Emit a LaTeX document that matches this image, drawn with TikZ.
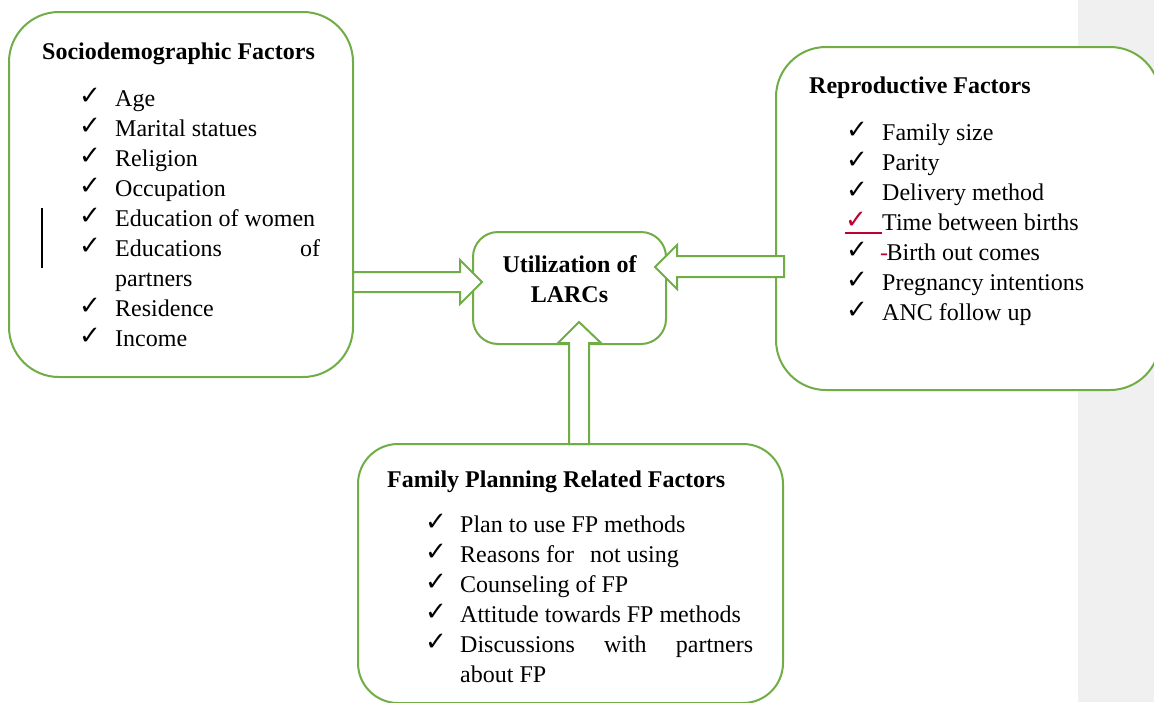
\documentclass[tikz,border=0pt]{standalone}
\usepackage{fontspec}
\setmainfont{Liberation Serif}
\newfontfamily\symf{DejaVu Sans}
\definecolor{grn}{RGB}{112,173,71}
\definecolor{crim}{RGB}{192,0,48}
\definecolor{band}{RGB}{240,240,240}
\begin{document}
\begin{tikzpicture}[x=1pt,y=-1pt,
  box/.style={draw=grn, line width=2pt, fill=white, rounded corners=#1},
  box/.default=50pt,
  fat/.style={draw=grn, line width=2pt, fill=white, line join=miter},
  hd/.style={anchor=base west, inner sep=0pt, font=\fontsize{24}{30}\selectfont\bfseries},
  itx/.style={anchor=base west, inner sep=0pt, font=\fontsize{24}{30}\selectfont},
  ck/.style={anchor=base west, inner sep=0pt, font=\symf\fontsize{26}{30}\selectfont}]
\useasboundingbox (0,0) rectangle (1154,702);
\clip (0,0) rectangle (1154,702);
% gray margin band
\fill[band] (1078,0) rectangle (1154,702);

% boxes
\draw[box] (9,12) rectangle (353,377);
\draw[box] (776,47) rectangle (1160,390);
\draw[box=40pt] (358,444) rectangle (783,703);
\draw[box=25pt] (473,232) rectangle (666,344);

% block arrows
\draw[fat] (353,272) -- (460,272) -- (460,260) -- (482,282) -- (460,304) -- (460,292) -- (353,292) -- cycle;
\draw[fat] (784,256) -- (677,256) -- (677,245) -- (655,267) -- (677,289) -- (677,277) -- (784,277) -- cycle;
\draw[fat] (569,444) -- (569,343) -- (558,343) -- (579,322) -- (601,343) -- (589,343) -- (589,444) -- cycle;

% change bar
\draw[line width=2pt] (42,208) -- (42,268);

% centre
\node[anchor=base, align=center, inner sep=0pt, font=\fontsize{24}{30}\selectfont\bfseries] (ut) at (569.5,302) {Utilization of\\LARCs};

% left box
\node[hd] (sdh) at (42,59) {Sociodemographic Factors};
\foreach \t/\y [count=\i] in {Age/106, Marital statues/136, Religion/166, Occupation/196, Education of women/226, Residence/316, Income/346}{
  \node[ck] (sdc\i) at (79,\y-2) {✓};
  \node[itx] (sdt\i) at (115,\y) {\t};
}
\node[ck] (sdc8) at (79,254) {✓};
\node[itx] (sdt8) at (115,256) {\hbox to 205pt{Educations\hfill of}};
\node[itx] (sdt9) at (115,286) {partners};

% right box
\node[hd] (rph) at (809,93) {Reproductive Factors};
\foreach \t/\y [count=\i] in {Family size/140, Parity/170, Delivery method/200, Pregnancy intentions/290, ANC follow up/320}{
  \node[ck] (rpc\i) at (846,\y-2) {✓};
  \node[itx] (rpt\i) at (882,\y) {\t};
}
\node[ck, text=crim] (rpc6) at (845,228) {✓};
\draw[crim, line width=1.5pt] (845,233) -- (882,233);
\node[itx] (rpt6) at (882,230) {Time between births};
\node[ck] (rpc7) at (846,258) {✓};
\node[itx] (rpt7) at (880,260) {\textcolor{crim}{-}\kern-1.5pt Birth out comes};

% bottom box
\node[hd] (fph) at (387,487) {Family Planning Related Factors};
\foreach \t/\y [count=\i] in {Plan to use FP methods/532, Reasons for \ \,not using/562, Counseling of FP/592, Attitude towards FP methods/622}{
  \node[ck] (fpc\i) at (425,\y-2) {✓};
  \node[itx] (fpt\i) at (460,\y) {\t};
}
\node[ck] (fpc5) at (425,650) {✓};
\node[itx] (fpt5) at (460,652) {\hbox to 293pt{Discussions\hfill with\hfill partners}};
\node[itx] (fpt6) at (460,682) {about FP};
\end{tikzpicture}
\end{document}
